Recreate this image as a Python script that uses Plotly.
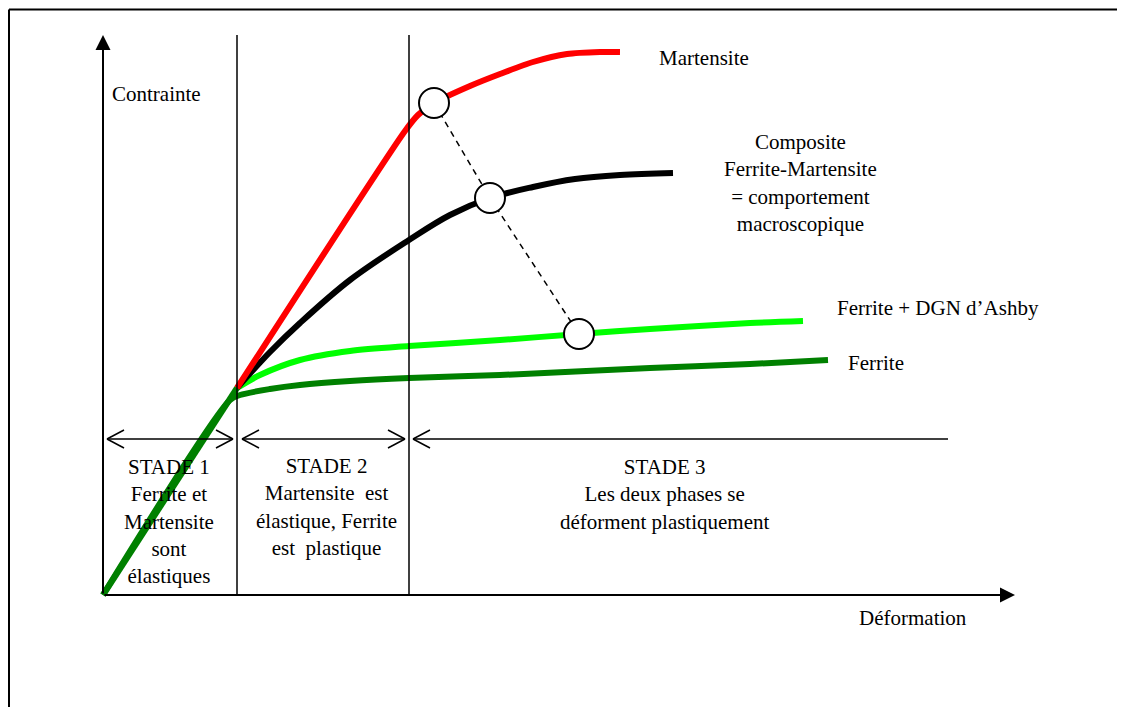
import plotly.graph_objects as go

# schematic units: origin of the stress/strain axes, 1 unit ~ 1 px
elastic_x = [0, 134]
elastic_y = [0, 207]

ferrite_x = [0, 127, 137, 167, 197, 247, 306, 397, 547, 647, 725]
ferrite_y = [0, 195, 200, 206, 210, 214, 217, 220, 227, 231, 235]

ferrite_dgn_x = [134, 157, 197, 247, 306, 397, 476, 547, 647, 700]
ferrite_dgn_y = [207, 220, 235, 244, 249, 255, 261, 266, 272, 274]

composite_x = [134, 167, 197, 247, 306, 347, 387, 430, 472, 517, 570]
composite_y = [207, 243, 272, 315, 355, 380, 397, 408, 416, 420, 422]

martensite_x = [134, 302, 315, 331, 367, 397, 430, 464, 497, 517]
martensite_y = [207, 464, 480, 492, 509, 521, 533, 541, 543, 543]

# points linked by the dashed line (martensite, composite, ferrite+DGN)
link_x = [331, 387, 476]
link_y = [492, 397, 261]

stage_edges = [0, 134, 306]
stage_top = 560
x_axis_end = 912
arrow_level = 156
stage_arrows = [(4, 130, True), (139, 302, True), (310, 845, False)]

serif = "Liberation Serif, Times New Roman, serif"

fig = go.Figure()

fig.add_trace(go.Scatter(x=ferrite_dgn_x, y=ferrite_dgn_y, mode="lines",
                         line=dict(color="#00ff00", width=6, shape="spline", smoothing=0.8)))
fig.add_trace(go.Scatter(x=composite_x, y=composite_y, mode="lines",
                         line=dict(color="black", width=6, shape="spline", smoothing=1)))
fig.add_trace(go.Scatter(x=martensite_x, y=martensite_y, mode="lines",
                         line=dict(color="#ff0000", width=6, shape="spline", smoothing=0.7)))
fig.add_trace(go.Scatter(x=ferrite_x, y=ferrite_y, mode="lines",
                         line=dict(color="#008000", width=6, shape="spline", smoothing=0.8)))
fig.add_trace(go.Scatter(x=elastic_x, y=elastic_y, mode="lines",
                         line=dict(color="#008000", width=6)))
fig.add_trace(go.Scatter(x=link_x, y=link_y, mode="lines",
                         line=dict(color="black", width=1.5, dash="6px,5px")))
fig.add_trace(go.Scatter(x=link_x, y=link_y, mode="markers",
                         marker=dict(symbol="circle", size=30, color="white",
                                     line=dict(color="black", width=2))))

W, H = 1117, 699  # page adds an 8 px body margin

shapes = []
# frame (top and left only)
shapes.append(dict(type="line", xref="paper", yref="paper", x0=1 / W, x1=1, y0=1 - 1.5 / H, y1=1 - 1.5 / H,
                   line=dict(color="black", width=2)))
shapes.append(dict(type="line", xref="paper", yref="paper", x0=1 / W, x1=1 / W, y0=0, y1=1 - 1.5 / H,
                   line=dict(color="black", width=2)))
# stage dividers
for xe in stage_edges[1:]:
    shapes.append(dict(type="line", x0=xe, x1=xe, y0=0, y1=stage_top,
                       line=dict(color="black", width=1.5)))


# stage double arrows with open chevron heads
def chevron(tip, direction):
    return [dict(type="line", x0=tip, y0=arrow_level, x1=tip + direction * 17, y1=arrow_level + dy,
                 line=dict(color="black", width=1.5)) for dy in (9, -9)]


for a, b, right_head in stage_arrows:
    shapes.append(dict(type="line", x0=a, x1=b, y0=arrow_level, y1=arrow_level,
                       line=dict(color="black", width=1.5)))
    shapes += chevron(a, 1)
    if right_head:
        shapes += chevron(b, -1)

annotations = [
    # axes
    dict(x=0, y=stage_top, ax=0, ay=0, xref="x", yref="y", axref="x", ayref="y", text="",
         showarrow=True, arrowhead=2, arrowsize=1.5, arrowwidth=2, arrowcolor="black"),
    dict(x=x_axis_end, y=0, ax=0, ay=0, xref="x", yref="y", axref="x", ayref="y", text="",
         showarrow=True, arrowhead=2, arrowsize=1.5, arrowwidth=2, arrowcolor="black"),
]

labels = [
    ("Contrainte", 7, 501, "left"),
    ("Martensite", 554, 537, "left"),
    ("Composite<br>Ferrite-Martensite<br>= comportement<br>macroscopique", 697, 412, "center"),
    ("Ferrite + DGN d\u2019Ashby", 732, 287, "left"),
    ("Ferrite", 743, 232, "left"),
    ("Déformation", 754, -23, "left"),
    ("STADE 1<br>Ferrite et<br>Martensite<br>sont<br>élastiques", 66, 74, "center"),
    ("STADE 2<br>Martensite  est<br>élastique, Ferrite<br>est  plastique", 223, 88, "center"),
    ("STADE 3<br>Les deux phases se<br>déforment plastiquement", 562, 101, "center"),
]
for txt, x, y, anchor in labels:
    annotations.append(dict(x=x, y=y, xref="x", yref="y", text=txt, showarrow=False,
                            xanchor=anchor, yanchor="middle", align="center",
                            font=dict(family=serif, size=21, color="black")))

fig.update_layout(
    width=W, height=H,
    margin=dict(l=0, r=0, t=0, b=0),
    paper_bgcolor="white", plot_bgcolor="white",
    showlegend=False,
    xaxis=dict(visible=False, range=[-95, 1022]),
    yaxis=dict(visible=False, range=[-112, 587]),
    shapes=shapes,
    annotations=annotations,
)

fig.write_html("out.html")
